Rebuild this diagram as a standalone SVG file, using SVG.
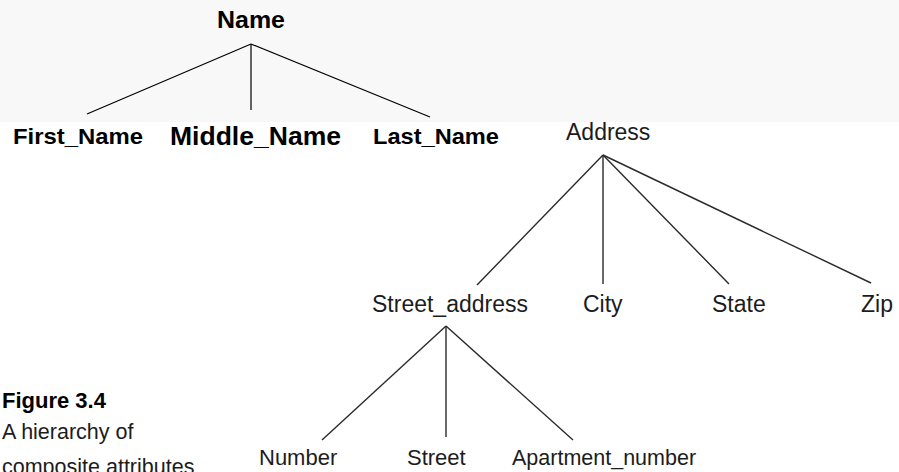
<svg xmlns="http://www.w3.org/2000/svg" width="899" height="472" viewBox="0 0 899 472">
<style>
.b{font-family:"Liberation Sans",Arial,sans-serif;font-weight:bold;fill:#000}
.n{font-family:"Liberation Sans",Arial,sans-serif;fill:#1c1c1c}
.e{stroke:#000;stroke-width:1.2;fill:none}
.a{stroke:#2a2a2a;stroke-width:1.4;fill:none}
</style>
<rect x="0" y="0" width="899" height="472" fill="#ffffff"/>
<rect x="0" y="0" width="899" height="122" fill="#f8f8f8"/>
<g id="connectors">
<line class="e" x1="251" y1="44" x2="87" y2="114"/>
<line class="e" x1="251" y1="44" x2="251" y2="110"/>
<line class="e" x1="251" y1="44" x2="430" y2="117"/>
<line class="a" x1="603" y1="155" x2="477" y2="285"/>
<line class="a" x1="603" y1="155" x2="603" y2="284"/>
<line class="a" x1="603" y1="155" x2="729" y2="284"/>
<line class="a" x1="603" y1="155" x2="871" y2="283"/>
<line class="a" x1="446" y1="326" x2="322" y2="440"/>
<line class="a" x1="446" y1="326" x2="446" y2="437"/>
<line class="a" x1="446" y1="326" x2="573" y2="440"/>
</g>
<g id="name"><text class="b" x="217" y="28" font-size="23" textLength="68" lengthAdjust="spacingAndGlyphs">Name</text></g>
<g id="first_name"><text class="b" x="13" y="144" font-size="22" textLength="130" lengthAdjust="spacingAndGlyphs">First_Name</text></g>
<g id="middle_name"><text class="b" x="170" y="145" font-size="26" textLength="171" lengthAdjust="spacingAndGlyphs">Middle_Name</text></g>
<g id="last_name"><text class="b" x="373" y="144" font-size="22" textLength="126" lengthAdjust="spacingAndGlyphs">Last_Name</text></g>
<g id="address"><text class="n" x="566" y="140" font-size="23">Address</text></g>
<g id="street_address"><text class="n" x="372" y="312" font-size="23">Street_address</text></g>
<g id="city"><text class="n" x="583" y="312" font-size="23">City</text></g>
<g id="state"><text class="n" x="712" y="312" font-size="23">State</text></g>
<g id="zip"><text class="n" x="861" y="312" font-size="23">Zip</text></g>
<g id="number"><text class="n" x="259" y="465" font-size="22">Number</text></g>
<g id="street"><text class="n" x="407" y="465" font-size="22">Street</text></g>
<g id="apartment_number"><text class="n" x="512" y="465" font-size="21.5">Apartment_number</text></g>
<g id="caption">
<text class="b" x="2" y="408" font-size="22">Figure 3.4</text>
<text class="n" x="2" y="439" font-size="21.5">A hierarchy of</text>
<text class="n" x="2" y="474" font-size="21.5">composite attributes</text>
</g>
</svg>
